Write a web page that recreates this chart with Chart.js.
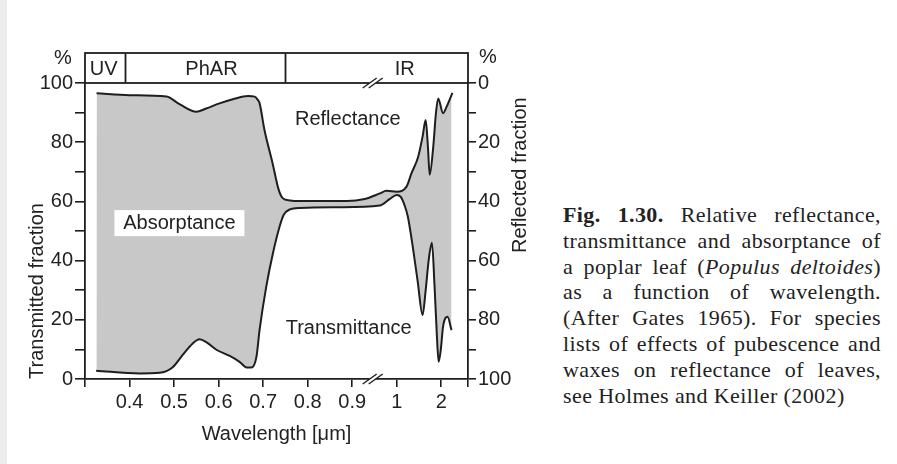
<!DOCTYPE html>
<html>
<head>
<meta charset="utf-8">
<script src="https://cdn.jsdelivr.net/npm/chart.js@4.4.1/dist/chart.umd.min.js"></script>
<style>
  html, body { margin: 0; padding: 0; background: #fff; }
  #wrap { position: relative; width: 897px; height: 464px; overflow: hidden; background: #fff; }
  #strip { position: absolute; left: 0; top: 0; width: 7px; height: 464px; background: #ededed; }
  #chartBox { position: absolute; left: 0; top: 0; width: 545px; height: 464px; }
  #caption { position: absolute; left: 563px; top: 202px; width: 318px;
    font-family: "Liberation Serif", serif; font-size: 22px; letter-spacing: 0.4px;
    line-height: 25.8px; color: #222; }
  #caption div { text-align: justify; text-align-last: justify; white-space: nowrap; }
  #caption div.last { text-align: left; text-align-last: left; }
</style>
</head>
<body>
<div id="wrap">
  <div id="strip"></div>
  <div id="chartBox"><canvas id="leafChart"></canvas></div>
  <div id="caption">
    <div><b>Fig. 1.30.</b> Relative reflectance,</div>
    <div>transmittance and absorptance of</div>
    <div>a poplar leaf (<i>Populus deltoides</i>)</div>
    <div>as a function of wavelength.</div>
    <div>(After Gates 1965). For species</div>
    <div>lists of effects of pubescence and</div>
    <div>waxes on reflectance of leaves,</div>
    <div class="last">see Holmes and Keiller (2002)</div>
  </div>
</div>
<script>
// wavelengths in um, reflectance in % (right axis, reversed)
var reflWavelength = [0.326, 0.40, 0.483, 0.512, 0.550, 0.572, 0.602, 0.632, 0.666, 0.681, 0.688, 0.692,
    0.703, 0.721, 0.735, 0.744, 0.760, 0.782, 0.888, 0.928, 0.962, 0.977, 1.00, 1.22, 1.33, 1.48,
    1.58, 1.65, 1.70, 1.74, 1.82, 1.88, 1.93, 2.04, 2.12, 2.25];
var reflectance = [3.5, 4.1, 4.6, 7.1, 9.7, 8.6, 6.9, 5.5, 4.4, 4.6, 5.7, 6.8,
    15.9, 27, 36.1, 38.9, 39.7, 39.9, 39.9, 39.2, 37.3, 36.4, 36.7, 35, 30.5, 25,
    18.1, 12.5, 21.5, 31, 21.5, 10.2, 5.2, 10.2, 8, 3.3];

// transmittance in % (left axis)
var transWavelength = [0.325, 0.423, 0.467, 0.497, 0.519, 0.542, 0.557, 0.573, 0.596, 0.625, 0.647, 0.663,
    0.674, 0.685, 0.692, 0.707, 0.722, 0.737, 0.746, 0.760, 0.782, 0.872, 0.962, 0.984, 1.00, 1.09,
    1.18, 1.25, 1.37, 1.47, 1.58, 1.65, 1.72, 1.79, 1.85, 1.90, 1.94, 1.99, 2.04, 2.14, 2.23];
var transmittance = [2.8, 1.9, 2.1, 4.0, 8.1, 12.0, 13.4, 12.4, 9.8, 7.8, 5.8, 3.9,
    3.9, 7.5, 16.6, 31.2, 42.5, 51.5, 55.4, 57.3, 57.8, 58.0, 58.6, 60.8, 62.2, 61.5,
    58.5, 54.8, 43.6, 33, 21.6, 30, 40.5, 46, 31, 15, 5.8, 10, 17.7, 21, 16.5];

var xTickWavelengths = [0.3, 0.4, 0.5, 0.6, 0.7, 0.8, 0.9, 1, 2, 2.6];
var xTickLabels = ['', '0.4', '0.5', '0.6', '0.7', '0.8', '0.9', '1', '2', ''];

var bandNames = ['UV', 'PhAR', 'IR'];
var bandLimits = [0.39, 0.75];

// broken axis: linear up to 1 um, compressed beyond
function axisPos(w) {
    return w <= 1 ? w : 1 + (w - 1) / 10;
}

function toPoints(xs, ys) {
    return xs.map(function(w, i) { return {x: axisPos(w), y: ys[i]}; });
}

var ink = '#1e1e1e';
var sans = 'Liberation Sans';

var decorations = {
    id: 'decorations',
    afterDraw: function(chart) {
        var ctx = chart.ctx;
        var area = chart.chartArea;
        var xs = chart.scales.x, yl = chart.scales.y;
        var bandTop = 53;
        ctx.save();
        ctx.strokeStyle = ink;
        ctx.fillStyle = '#222';
        ctx.lineWidth = 1.8;

        // wavelength band box
        ctx.strokeRect(area.left, bandTop, area.right - area.left, area.top - bandTop);
        bandLimits.forEach(function(w) {
            var px = Math.round(xs.getPixelForValue(axisPos(w))) + 0.5;
            ctx.beginPath();
            ctx.moveTo(px, bandTop);
            ctx.lineTo(px, area.top);
            ctx.stroke();
        });
        ctx.font = '20px ' + sans;
        ctx.textAlign = 'center';
        ctx.textBaseline = 'middle';
        var labelAt = [0.342, 0.584, 1.18];
        bandNames.forEach(function(name, i) {
            ctx.fillText(name, xs.getPixelForValue(axisPos(labelAt[i])), (bandTop + area.top) / 2 + 1);
        });

        // % signs
        ctx.fillText('%', 63, 58);
        ctx.fillText('%', 488, 57);

        // curve labels
        ctx.fillText('Reflectance', xs.getPixelForValue(0.89), yl.getPixelForValue(87.8));
        ctx.fillText('Transmittance', xs.getPixelForValue(0.892), yl.getPixelForValue(17));
        var ax = xs.getPixelForValue(0.512), ay = yl.getPixelForValue(53);
        ctx.fillStyle = '#fff';
        ctx.fillRect(ax - 65, ay - 12, 130, 26);
        ctx.fillStyle = '#222';
        ctx.fillText('Absorptance', ax, ay + 1);

        // right axis title, reading upwards
        ctx.save();
        ctx.translate(520, 253);
        ctx.rotate(-Math.PI / 2);
        ctx.textAlign = 'left';
        ctx.fillText('Reflected fraction', 0, 0);
        ctx.restore();

        // axis break marks
        var bx = xs.getPixelForValue(0.946);
        [area.top, area.bottom].forEach(function(y) {
            ctx.fillStyle = '#fff';
            ctx.fillRect(bx - 3, y - 2, 6, 4);
            ctx.lineWidth = 1.4;
            [-3, 3].forEach(function(dx) {
                ctx.beginPath();
                ctx.moveTo(bx + dx - 7, y + 5);
                ctx.lineTo(bx + dx + 7, y - 5);
                ctx.stroke();
            });
        });
        ctx.restore();
    }
};

var tickFont = {family: sans, size: 20};

new Chart(document.getElementById('leafChart'), {
    type: 'line',
    data: {
        datasets: [{
            label: 'Reflectance',
            data: toPoints(reflWavelength, reflectance),
            yAxisID: 'yR',
            borderColor: ink,
            borderWidth: 2,
            pointRadius: 0,
            fill: false,
            cubicInterpolationMode: 'monotone'
        }, {
            label: 'Transmittance',
            data: toPoints(transWavelength, transmittance),
            yAxisID: 'y',
            borderColor: ink,
            borderWidth: 2,
            pointRadius: 0,
            fill: '-1',
            backgroundColor: '#c8c8c8',
            cubicInterpolationMode: 'monotone'
        }]
    },
    options: {
        responsive: true,
        maintainAspectRatio: false,
        animation: false,
        layout: {padding: {top: 83, left: 0, right: 0, bottom: 0}},
        plugins: {legend: {display: false}, tooltip: {enabled: false}},
        scales: {
            x: {
                type: 'linear',
                min: 0.3,
                max: 1.16,
                afterBuildTicks: function(scale) {
                    scale.ticks = xTickWavelengths.map(function(w) { return {value: axisPos(w)}; });
                },
                afterFit: function(scale) { scale.height = 85; },
                ticks: {
                    autoSkip: false,
                    maxRotation: 0,
                    font: tickFont,
                    color: '#222',
                    padding: 3,
                    callback: function(value, index) { return xTickLabels[index]; }
                },
                grid: {drawOnChartArea: false, tickLength: 8, color: ink, lineWidth: 1.6},
                border: {color: ink, width: 1.8},
                title: {
                    display: true,
                    text: 'Wavelength [μm]',
                    color: '#222',
                    font: {family: sans, size: 20},
                    padding: {top: 0, bottom: 18}
                }
            },
            y: {
                position: 'left',
                min: 0,
                max: 100,
                afterFit: function(scale) { scale.width = 85; },
                ticks: {
                    stepSize: 10,
                    font: tickFont,
                    color: '#222',
                    padding: 2,
                    callback: function(value) { return value % 20 === 0 ? value : ''; }
                },
                grid: {drawOnChartArea: false, tickLength: 10, color: ink, lineWidth: 1.6},
                border: {color: ink, width: 1.8},
                title: {
                    display: true,
                    text: 'Transmitted fraction',
                    align: 'start',
                    color: '#222',
                    font: {family: sans, size: 20},
                    padding: {top: 25, bottom: 0}
                }
            },
            yR: {
                position: 'right',
                reverse: true,
                min: 0,
                max: 100,
                afterFit: function(scale) { scale.width = 77; },
                ticks: {
                    stepSize: 10,
                    font: tickFont,
                    color: '#222',
                    padding: 2,
                    callback: function(value) { return value % 20 === 0 ? value : ''; }
                },
                grid: {drawOnChartArea: false, tickLength: 8, color: ink, lineWidth: 1.6},
                border: {color: ink, width: 1.8}
            }
        }
    },
    plugins: [decorations]
});
</script>
</body>
</html>
